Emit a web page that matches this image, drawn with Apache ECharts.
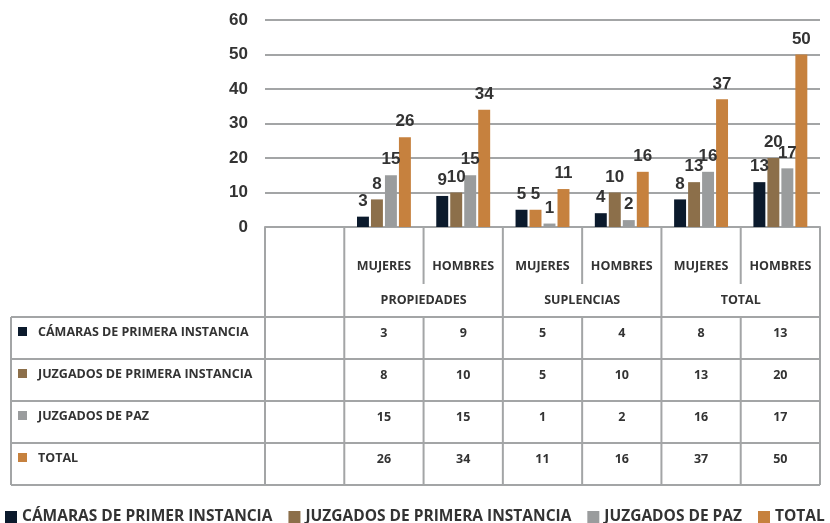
<!DOCTYPE html>
<html>
<head>
<meta charset="utf-8">
<script src="https://cdn.jsdelivr.net/npm/echarts@6/dist/echarts.min.js"></script>
<style>
  html, body { margin: 0; padding: 0; background: #fff; }
  #chart { width: 830px; height: 523px; }
</style>
</head>
<body>
<div id="chart"></div>
<script>
// datos
const categories = ['', 'MUJERES', 'HOMBRES', 'MUJERES', 'HOMBRES', 'MUJERES', 'HOMBRES'];
const groups = ['PROPIEDADES', 'SUPLENCIAS', 'TOTAL'];
const legendNames = ['CÁMARAS DE PRIMER INSTANCIA', 'JUZGADOS DE PRIMERA INSTANCIA', 'JUZGADOS DE PAZ', 'TOTAL'];
const rowNames = ['CÁMARAS DE PRIMERA INSTANCIA', 'JUZGADOS DE PRIMERA INSTANCIA', 'JUZGADOS DE PAZ', 'TOTAL'];
const camaras = [null, 3, 9, 5, 4, 8, 13];
const juzgadosPrimera = [null, 8, 10, 5, 10, 13, 20];
const juzgadosPaz = [null, 15, 15, 1, 2, 16, 17];
const total = [null, 26, 34, 11, 16, 37, 50];
const yTicks = [0, 10, 20, 30, 40, 50, 60];

const allSeries = [camaras, juzgadosPrimera, juzgadosPaz, total];
const colors = ['#0b1a2c', '#8c6f4a', '#9a9c9d', '#c6813e'];
const lineColor = '#a3a5a6';
const textColor = '#333333';
const tableFont = "'Open Sans', sans-serif";
const tableFontCss = "bold 12.5px 'Open Sans', sans-serif";

const chart = echarts.init(document.getElementById('chart'));

// en el original la barra de suplencias/mujeres (juzgados 1a inst.) sale en naranja
function seriesData(s, i) {
  return s.map((v, j) => {
    if (i === 1 && j === 3) return { value: v, itemStyle: { color: colors[3] } };
    return v;
  });
}

chart.setOption({
  animation: false,
  grid: { left: 265, right: 10, top: 20, bottom: 296, containLabel: false },
  legend: {
    top: 504,
    left: 0,
    itemWidth: 12,
    itemHeight: 12,
    itemGap: 16,
    icon: 'rect',
    textStyle: { fontFamily: tableFont, fontWeight: 'bold', fontSize: 15.5, color: textColor },
    data: legendNames
  },
  xAxis: {
    type: 'category',
    data: categories,
    axisLine: { show: true, lineStyle: { color: lineColor, width: 2 } },
    axisTick: { show: false },
    axisLabel: { margin: 33, interval: 0, fontFamily: tableFont, fontWeight: 'bold', fontSize: 12.5, color: textColor }
  },
  yAxis: {
    type: 'value',
    min: yTicks[0],
    max: yTicks[yTicks.length - 1],
    interval: 10,
    axisLine: { show: false },
    axisTick: { show: false },
    axisLabel: { margin: 17, fontFamily: "'Liberation Sans', Arial, sans-serif", fontWeight: 'bold', fontSize: 17, color: textColor },
    splitLine: { lineStyle: { color: lineColor, width: 2 } }
  },
  series: allSeries.map((s, i) => ({
    name: legendNames[i],
    type: 'bar',
    data: seriesData(s, i),
    barGap: '17%',
    barCategoryGap: '32%',
    itemStyle: { color: colors[i] },
    label: {
      show: true,
      position: 'top',
      distance: 7,
      fontFamily: "'Liberation Sans', Arial, sans-serif",
      fontWeight: 'bold',
      fontSize: 17,
      color: textColor
    }
  }))
});

// tabla bajo el eje
function drawTable() {
  const c0 = chart.convertToPixel({ xAxisIndex: 0 }, 0);
  const c1 = chart.convertToPixel({ xAxisIndex: 0 }, 1);
  const bw = c1 - c0;
  const x0 = c0 - bw / 2;
  const edge = k => x0 + k * bw;
  const yTop = chart.convertToPixel({ yAxisIndex: 0 }, 0);
  const headBreak = yTop + 57;
  const rowTop = yTop + 90;
  const rowH = 42;
  const tableLeft = 11;
  const tableRight = edge(categories.length);
  const yBottom = rowTop + rowH * rowNames.length;

  const els = [];
  const line = (x1, y1, x2, y2) => els.push({
    type: 'line', shape: { x1, y1, x2, y2 },
    style: { stroke: lineColor, lineWidth: 2 }, silent: true
  });

  for (let r = 0; r <= rowNames.length; r++) {
    line(tableLeft, rowTop + r * rowH, tableRight, rowTop + r * rowH);
  }
  line(tableLeft, rowTop, tableLeft, yBottom);
  for (let k = 0; k <= categories.length; k++) {
    if (k >= 2 && k % 2 === 0) {
      line(edge(k), yTop, edge(k), headBreak);
      line(edge(k), rowTop, edge(k), yBottom);
    } else {
      line(edge(k), yTop, edge(k), yBottom);
    }
  }

  groups.forEach((g, i) => {
    els.push({
      type: 'text', x: edge(1 + i * 2 + 1), y: yTop + 73,
      style: { text: g, align: 'center', verticalAlign: 'middle', fill: textColor, font: tableFontCss }
    });
  });

  rowNames.forEach((name, r) => {
    const y = rowTop + r * rowH;
    els.push({ type: 'rect', shape: { x: 18, y: y + 10, width: 9, height: 9 },
      style: { fill: colors[r] } });
    els.push({
      type: 'text', x: 38, y: y + 15,
      style: { text: name, align: 'left', verticalAlign: 'middle', fill: textColor, font: tableFontCss }
    });
    allSeries[r].forEach((v, j) => {
      if (v === null) return;
      els.push({
        type: 'text', x: edge(j) + bw / 2, y: y + 16,
        style: { text: String(v), align: 'center', verticalAlign: 'middle', fill: textColor, font: tableFontCss }
      });
    });
  });

  chart.setOption({ graphic: { elements: els } });
}
drawTable();
</script>
</body>
</html>
